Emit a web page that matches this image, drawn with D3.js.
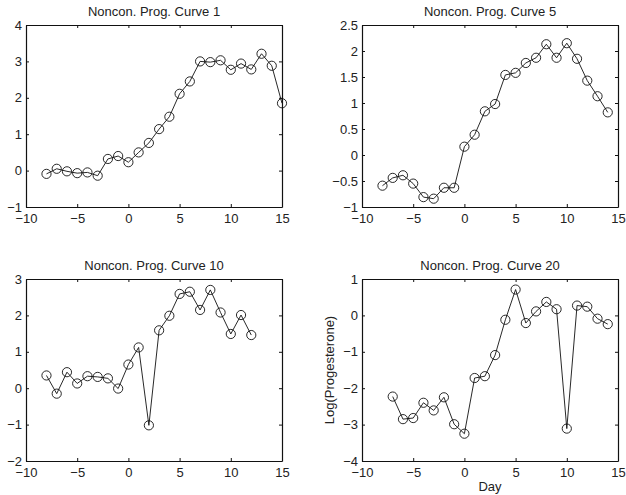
<!DOCTYPE html>
<html>
<head>
<meta charset="utf-8">
<script src="https://cdn.jsdelivr.net/npm/d3@7"></script>
<style>
body { margin: 0; background: #fff; }
text { font-family: "Liberation Sans", Arial, sans-serif; fill: #222; }
.tick text { font-size: 13px; font-family: "Liberation Sans", Arial, sans-serif; }
.domain { stroke: #111; }
.tick line { stroke: #111; }
</style>
</head>
<body>
<svg id="chart" width="626" height="495"></svg>
<script>
// values
var days1 = [-8,-7,-6,-5,-4,-3,-2,-1,0,1,2,3,4,5,6,7,8,9,10,11,12,13,14,15]
var curve1 = [-0.09,0.05,-0.02,-0.07,-0.05,-0.14,0.32,0.40,0.23,0.50,0.76,1.14,1.48,2.11,2.45,3.00,2.98,3.03,2.77,2.94,2.78,3.21,2.88,1.85]

var days5 = [-8,-7,-6,-5,-4,-3,-2,-1,0,1,2,3,4,5,6,7,8,9,10,11,12,13,14]
var curve5 = [-0.59,-0.44,-0.39,-0.55,-0.81,-0.84,-0.63,-0.63,0.16,0.39,0.84,0.98,1.54,1.58,1.77,1.87,2.13,1.87,2.15,1.85,1.43,1.13,0.82]

var days10 = [-8,-7,-6,-5,-4,-3,-2,-1,0,1,2,3,4,5,6,7,8,9,10,11,12]
var curve10 = [0.35,-0.15,0.44,0.13,0.33,0.31,0.27,-0.01,0.65,1.12,-1.02,1.59,1.99,2.59,2.65,2.15,2.70,2.08,1.49,2.01,1.46]

var days20 = [-7,-6,-5,-4,-3,-2,-1,0,1,2,3,4,5,6,7,8,9,10,11,12,13,14]
var curve20 = [-2.23,-2.85,-2.82,-2.40,-2.61,-2.25,-2.99,-3.25,-1.72,-1.67,-1.09,-0.12,0.71,-0.21,0.11,0.37,0.17,-3.11,0.27,0.24,-0.09,-0.24]

var titles = ["Noncon. Prog. Curve 1","Noncon. Prog. Curve 5","Noncon. Prog. Curve 10","Noncon. Prog. Curve 20"]
var xTicks = [-10,-5,0,5,10,15]
var yTicks1 = [-1,0,1,2,3,4]
var yTicks5 = [-1,-0.5,0,0.5,1,1.5,2,2.5]
var yTicks10 = [-2,-1,0,1,2,3]
var yTicks20 = [-4,-3,-2,-1,0,1]

var svg = d3.select("#chart")

var panels = [
    {x:26, y:25, days:days1, vals:curve1, yDom:[-1,4], yTicks:yTicks1, title:titles[0]},
    {x:362, y:25, days:days5, vals:curve5, yDom:[-1,2.5], yTicks:yTicks5, title:titles[1]},
    {x:26, y:279, days:days10, vals:curve10, yDom:[-2,3], yTicks:yTicks10, title:titles[2]},
    {x:362, y:279, days:days20, vals:curve20, yDom:[-4,1], yTicks:yTicks20, title:titles[3], labels:true}
]
var w = 256, h = 182

var fmt = function(d){ return String(d).replace("-", "\u2212") }

panels.forEach(function(p){
    var g = svg.append("g").attr("transform", "translate("+p.x+","+p.y+")")
    var xScale = d3.scaleLinear().domain([-10,15]).range([0,w])
    var yScale = d3.scaleLinear().domain(p.yDom).range([h,0])

    // bottom + left with labels, top + right ticks only
    g.append("g").attr("transform","translate(0,"+h+")")
        .call(d3.axisBottom(xScale).tickValues(xTicks).tickSizeInner(-3).tickSizeOuter(0).tickPadding(6.5).tickFormat(fmt))
    g.append("g")
        .call(d3.axisLeft(yScale).tickValues(p.yTicks).tickSizeInner(-3).tickSizeOuter(0).tickPadding(4).tickFormat(fmt))
    g.append("g")
        .call(d3.axisTop(xScale).tickValues(xTicks).tickSizeInner(-3).tickSizeOuter(0).tickFormat(""))
    g.append("g").attr("transform","translate("+w+",0)")
        .call(d3.axisRight(yScale).tickValues(p.yTicks).tickSizeInner(-3).tickSizeOuter(0).tickFormat(""))
    g.selectAll(".domain").attr("stroke-width", 1.2)

    g.append("text")
        .text(p.title)
        .attr("x", w/2)
        .attr("y", -9)
        .attr("text-anchor","middle")
        .style("font-size","13px")

    var pts = p.days.map(function(d,i){ return {day:d, v:p.vals[i]} })
    var line = d3.line()
        .x(function(d){ return xScale(d.day) })
        .y(function(d){ return yScale(d.v) })
    g.append("path").datum(pts)
        .attr("d", line)
        .attr("fill","none")
        .attr("stroke","#111")
        .attr("stroke-width",0.9)
    g.selectAll("circle.m").data(pts).enter().append("circle")
        .attr("cx", function(d){ return xScale(d.day) })
        .attr("cy", function(d){ return yScale(d.v) })
        .attr("r", 4.6)
        .attr("fill","none")
        .attr("stroke","#111")
        .attr("stroke-width",0.9)

    if (p.labels) {
        g.append("text")
            .text("Day")
            .attr("x", w/2)
            .attr("y", h+29.5)
            .attr("text-anchor","middle")
            .style("font-size","13px")
        g.append("text")
            .text("Log(Progesterone)")
            .attr("transform","translate(-28,"+(h/2)+") rotate(-90)")
            .attr("text-anchor","middle")
            .style("font-size","13px")
    }
})
</script>
</body>
</html>
